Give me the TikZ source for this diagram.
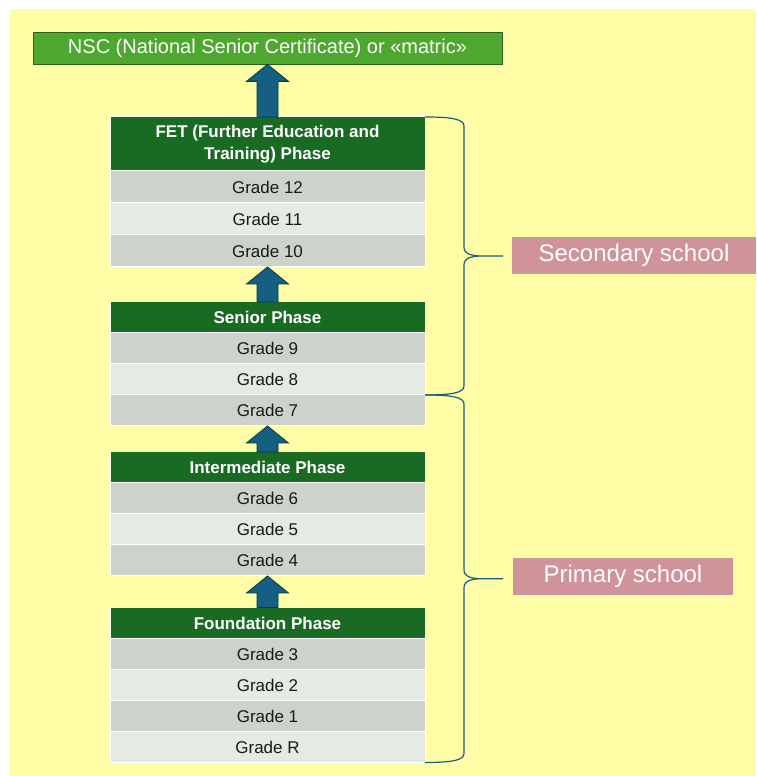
\documentclass[tikz,border=0pt]{standalone}
\usepackage{fontspec}
\setmainfont{Liberation Sans}
\usetikzlibrary{positioning,calc}
\definecolor{bgyellow}{HTML}{FFFDA6}
\definecolor{phasegreen}{HTML}{196B24}
\definecolor{nscgreen}{HTML}{4EA72E}
\definecolor{nscedge}{HTML}{2F5F1F}
\definecolor{rowdark}{HTML}{CDD3CC}
\definecolor{rowlight}{HTML}{E6EAE5}
\definecolor{arrowblue}{HTML}{156082}
\definecolor{arrowedge}{HTML}{0B3447}
\definecolor{schoolpink}{HTML}{D0939A}

\begin{document}
\begin{tikzpicture}[x=1pt, y=1pt,
    phase/.style={fill=phasegreen, draw=white, line width=1pt, outer sep=0pt, text=white,
      font=\bfseries\fontsize{17}{22}\selectfont, align=center, inner sep=0pt,
      minimum width=315pt, minimum height=31pt},
    grade/.style={draw=white, line width=1pt, outer sep=0pt, text=black!90,
      font=\fontsize{17}{20}\selectfont, inner sep=0pt,
      minimum width=315pt, minimum height=31pt},
    schoolbox/.style={fill=schoolpink, text=white, font=\fontsize{24}{28}\selectfont,
      inner sep=0pt, minimum height=37pt},
    blockarrow/.style={fill=arrowblue, draw=arrowedge, line width=0.8pt, line join=miter},
    brace/.style={draw=arrowblue, line width=1.2pt}]
    % Background
    \fill[white] (0,0) rectangle (756,776);
    \fill[bgyellow] (10,0) rectangle (756,767);
    \useasboundingbox (0,0) rectangle (756,776);

    % Certificate
    \node[fill=nscgreen, draw=nscedge, line width=0.8pt, text=white, font=\fontsize{20}{24}\selectfont,
      inner sep=0pt, minimum width=469pt, minimum height=32pt] (nsc) at (267.5,728)
      {NSC (National Senior Certificate) or «matric»};

    % Phase headers
    \node[phase, minimum height=54pt] (fet) at (267.5,632) {FET (Further Education and\\Training) Phase};
    \node[phase] (senior) at (267.5,458.5) {Senior Phase};
    \node[phase] (inter) at (267.5,308.5) {Intermediate Phase};
    \node[phase] (found) at (267.5,153) {Foundation Phase};

    % Grade rows
    \foreach \g/\prev/\shade in {12/fet/rowdark, 11/g12/rowlight, 10/g11/rowdark} {
      \node[grade, fill=\shade, minimum height=32pt, below=0pt of \prev] (g\g) {Grade \g};
    }
    \foreach \g/\prev/\shade in {9/senior/rowdark, 8/g9/rowlight, 7/g8/rowdark,
        6/inter/rowdark, 5/g6/rowlight, 4/g5/rowdark,
        3/found/rowdark, 2/g3/rowlight, 1/g2/rowdark, R/g1/rowlight} {
      \node[grade, fill=\shade, below=0pt of \prev] (g\g) {Grade \g};
    }

    % Arrows between phases
    \foreach \tail/\head in {fet/nsc, senior/g10, inter/g7, found/g4} {
      \draw[blockarrow] let \p1=(\tail.north), \p2=(\head.south) in
        (\x1-10.5,\y1) -- (\x1-10.5,\y2-17) -- (\x1-21,\y2-17) -- (\p2)
        -- (\x1+21,\y2-17) -- (\x1+10.5,\y2-17) -- (\x1+10.5,\y1) -- cycle;
    }

    % School labels
    \node[schoolbox, minimum width=244pt] (secondary) at (634,520.5) {Secondary school};
    \node[schoolbox, minimum width=220pt] (primary) at (623,199.5) {Primary school};

    % Braces
    \foreach \top/\bot in {fet/g8, g7/gR} {
      \draw[brace] let \p1=(\top.north east), \p2=(\bot.south east), \n1={0.5*(\y1+\y2)} in
        (\p1) .. controls (\x1+26,\y1) and (\x1+39,\y1-2) .. (\x1+39,\y1-9)
        -- (\x1+39,\n1+9) .. controls (\x1+39,\n1+2) and (\x1+46,\n1) .. (\x1+58,\n1) -- (\x1+78,\n1)
        (\x1+58,\n1) .. controls (\x1+46,\n1) and (\x1+39,\n1-2) .. (\x1+39,\n1-9)
        -- (\x1+39,\y2+9) .. controls (\x1+39,\y2+2) and (\x1+26,\y2) .. (\p2);
    }
\end{tikzpicture}
\end{document}
